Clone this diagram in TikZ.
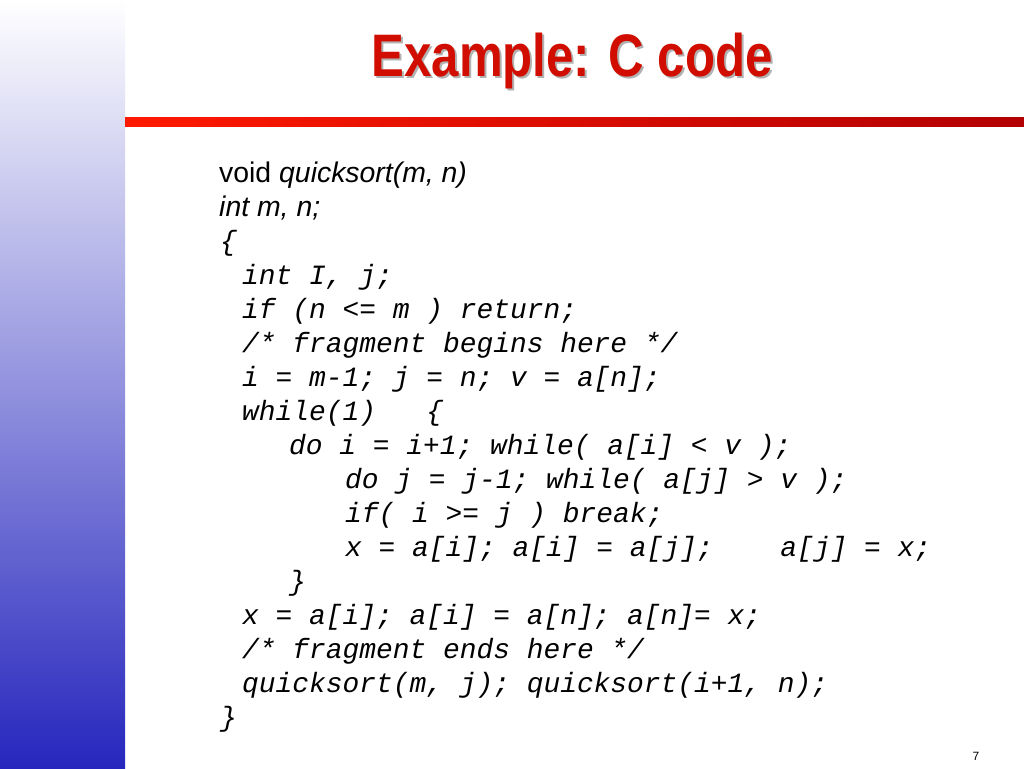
\documentclass[tikz,border=0pt]{standalone}
\usepackage{fontspec}
\setmainfont{Liberation Sans}
\setmonofont{Liberation Mono}
\begin{document}
\begin{tikzpicture}[x=1pt,y=-1pt,
  code/.style={anchor=base west,inner sep=0pt,font=\fontsize{27.9}{30}\selectfont\ttfamily\itshape},
  sans/.style={anchor=base west,inner sep=0pt,font=\fontsize{28.4}{30}\selectfont},
  ttl/.style={font=\fontsize{60}{66}\selectfont\bfseries,xscale=0.82,inner sep=0pt}]
\useasboundingbox (0,0) rectangle (1024,768);
\fill[white] (0,0) rectangle (1024,768);
\shade[top color=white,bottom color=blue!70!black!85] (0,0) rectangle (125,768);
\shade[left color=red!80!orange,right color=red!70!black] (125,117) rectangle (1024,126);
\node (shadow) [ttl,text=black!30] at (574,63) {Example: C code};
\node (title) [ttl,text=red!80!black!90!orange] at (572,61) {Example: C code};
\node (l1) [sans] at (219,182) {void \textit{quicksort(m, n)}};
\node (l2) [sans] at (219,216) {\textit{int m, n;}};
\node (l3) [code] at (220,250) {\{};
\node (l4) [code] at (242,284) {int I, j;};
\node (l5) [code] at (242,318) {if (n <= m ) return;};
\node (l6) [code] at (242,352) {/* fragment begins here */};
\node (l7) [code] at (242,386) {i = m-1; j = n; v = a[n];};
\node (l8) [code] at (242,420) {while(1)\ \ \ \{};
\node (l9) [code] at (289,454) {do i = i+1; while( a[i] < v );};
\node (l10) [code] at (345,488) {do j = j-1; while( a[j] > v );};
\node (l11) [code] at (345,522) {if( i >= j ) break;};
\node (l12) [code] at (345,556) {x = a[i]; a[i] = a[j];\ \ \ \ a[j] = x;};
\node (l13) [code] at (289,590) {\}};
\node (l14) [code] at (242,624) {x = a[i]; a[i] = a[n]; a[n]= x;};
\node (l15) [code] at (242,658) {/* fragment ends here */};
\node (l16) [code] at (242,692) {quicksort(m, j); quicksort(i+1, n);};
\node (l17) [code] at (220,726) {\}};
\node (pg) [anchor=base,inner sep=0pt,font=\fontsize{12}{14}\selectfont] at (976,760) {7};
\end{tikzpicture}
\end{document}
